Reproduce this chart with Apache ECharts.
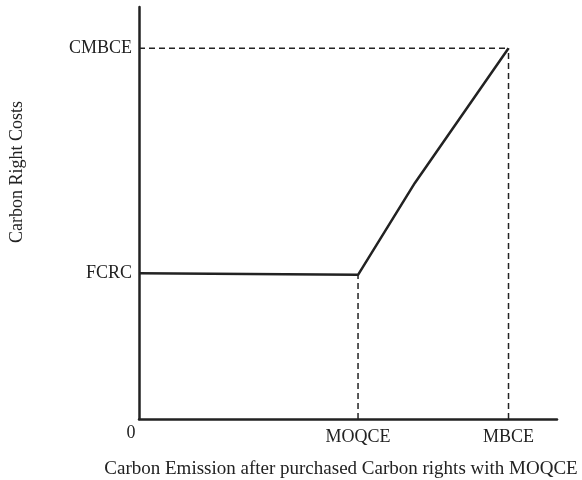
<!DOCTYPE html>
<html>
<head>
<meta charset="utf-8">
<script src="https://cdn.jsdelivr.net/npm/echarts@6/dist/echarts.min.js"></script>
<style>
  html, body { margin: 0; padding: 0; background: #fff; }
  #chart { width: 582px; height: 480px; }
</style>
</head>
<body>
<div id="chart"></div>
<script>
// Key quantities on the conceptual emission / cost scales (0–100)
const MOQCE = 52.4;   // minimum quota of carbon emission
const MBCE = 88.4;    // maximum bound of carbon emission
const FCRC = 35.4;    // fixed carbon right cost
const CMBCE = 90.0;   // cost at maximum bound of carbon emission

// Cost curve: flat up to MOQCE, then rising to the maximum bound
const costX = [0, MOQCE, 66.0, MBCE];
const costY = [FCRC, 35.0, 57.3, CMBCE];

// Tick labels
const xTickValues = [0, MOQCE, MBCE];
const xTickLabels = ['0', 'MOQCE', 'MBCE'];
const yTickValues = [FCRC, CMBCE];
const yTickLabels = ['FCRC', 'CMBCE'];

const xTitle = 'Carbon Emission after purchased Carbon rights with MOQCE';
const yTitle = 'Carbon Right Costs';

const FONT = '"Liberation Serif", "DejaVu Serif", serif';
const INK = '#222';

const chart = echarts.init(document.getElementById('chart'), null, { renderer: 'canvas' });

const dashed = { color: INK, width: 1.5, type: [6, 4] };

chart.setOption({
  animation: false,
  grid: {
    left: 139, top: 7, right: 25, bottom: 61,
    containLabel: false, outerBoundsMode: 'none'
  },
  xAxis: {
    type: 'value', min: 0, max: 100,
    name: xTitle, nameLocation: 'middle', nameGap: 41,
    nameTextStyle: { fontFamily: FONT, fontSize: 19, color: INK, padding: [0, 14, 0, 0] },
    axisLine: { show: true, onZero: false, lineStyle: { color: INK, width: 2.5 } },
    axisTick: { show: false },
    splitLine: { show: false },
    axisLabel: {
      customValues: xTickValues,
      margin: 5,
      formatter: v => {
        const i = xTickValues.indexOf(v);
        return i === 0 ? '{z|' + xTickLabels[i] + '}' : '{t|' + xTickLabels[i] + '}';
      },
      rich: {
        z: { fontFamily: FONT, fontSize: 18, color: INK, lineHeight: 18, padding: [0, 16, 0, 0] },
        t: { fontFamily: FONT, fontSize: 18, color: INK, lineHeight: 18, padding: [9, 0, 0, 0] }
      }
    }
  },
  yAxis: {
    type: 'value', min: 0, max: 100,
    axisLine: { show: true, onZero: false, lineStyle: { color: INK, width: 2.5 } },
    axisTick: { show: false },
    splitLine: { show: false },
    axisLabel: {
      customValues: yTickValues,
      margin: 7,
      fontFamily: FONT, fontSize: 18, color: INK,
      formatter: v => yTickLabels[yTickValues.indexOf(v)]
    }
  },
  graphic: [{
    type: 'text',
    x: 17, y: 172,
    rotation: Math.PI / 2,
    style: {
      text: yTitle,
      fontFamily: FONT, fontSize: 18, fill: INK,
      align: 'center', verticalAlign: 'middle'
    }
  }],
  series: [
    {
      type: 'line', name: 'guide-cmbce', symbol: 'none', silent: true,
      data: [[0, CMBCE], [MBCE, CMBCE]], lineStyle: dashed, z: 1
    },
    {
      type: 'line', name: 'guide-mbce', symbol: 'none', silent: true,
      data: [[MBCE, 0], [MBCE, CMBCE]], lineStyle: dashed, z: 1
    },
    {
      type: 'line', name: 'guide-moqce', symbol: 'none', silent: true,
      data: [[MOQCE, 0], [MOQCE, costY[1]]], lineStyle: dashed, z: 1
    },
    {
      type: 'line', name: 'cost', symbol: 'none', silent: true,
      data: costX.map((x, i) => [x, costY[i]]),
      lineStyle: { color: INK, width: 2.5 }, z: 3
    }
  ]
});
</script>
</body>
</html>
